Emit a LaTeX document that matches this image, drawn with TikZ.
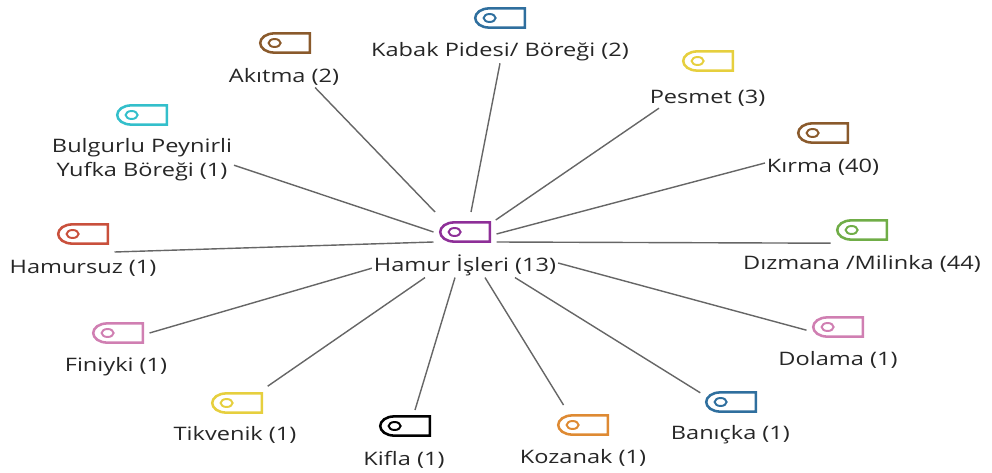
\documentclass[tikz,border=0pt]{standalone}
\usepackage{fontspec}
\setmainfont[FakeStretch=1.27]{Open Sans}
\definecolor{hubpurple}{HTML}{8E2F98}
\definecolor{tagteal}{HTML}{33BFCB}
\definecolor{tagbrown}{HTML}{8A5A2C}
\definecolor{tagblue}{HTML}{2F6F9E}
\definecolor{tagyellow}{HTML}{E6CF3E}
\definecolor{tagolive}{HTML}{70AD47}
\definecolor{tagred}{HTML}{C9503C}
\definecolor{tagpink}{HTML}{D07FB2}
\definecolor{tagorange}{HTML}{DE8A33}
\tikzset{
	tagbox/.style={minimum width=1.275cm, minimum height=0.5cm, inner sep=0pt, outer sep=0.15cm},
	tagname/.style={font=\fontsize{13.2pt}{17pt}\selectfont, text=black!85, inner sep=0pt, outer sep=0.05cm, align=center},
	link/.style={draw=black!60, line width=1pt}
}
\newcommand{\tagicon}[4]{
	\node [tagbox] (#1) at (#2, #3) {};
	\draw [#4, line width=1.8pt, shift={(#2, #3)}] (0.62, 0.24) -- (-0.27, 0.24) arc [start angle=90, end angle=270, x radius=0.35, y radius=0.24] -- (0.62, -0.24) -- cycle;
	\draw [#4, line width=1.4pt] (#2-0.26, #3) ellipse (0.15 and 0.1);
}
\begin{document}
\begin{tikzpicture}
				\useasboundingbox (0, 0) rectangle (24.8, 11.8);

				\tagicon{THub}{11.625}{6.0}{hubpurple}
				\tagicon{TKabak}{12.5}{11.35}{tagblue}
				\tagicon{TAkitma}{7.125}{10.725}{tagbrown}
				\tagicon{TPesmet}{17.7}{10.275}{tagyellow}
				\tagicon{TKirma}{20.575}{8.475}{tagbrown}
				\tagicon{TDizmana}{21.55}{6.05}{tagolive}
				\tagicon{TDolama}{20.95}{3.625}{tagpink}
				\tagicon{TBanicka}{18.275}{1.75}{tagblue}
				\tagicon{TKozanak}{14.575}{1.175}{tagorange}
				\tagicon{TKifla}{10.125}{1.15}{black}
				\tagicon{TTikvenik}{5.925}{1.725}{tagyellow}
				\tagicon{TFiniyki}{2.95}{3.475}{tagpink}
				\tagicon{THamursuz}{2.075}{5.95}{tagred}
				\tagicon{TBulgurlu}{3.55}{8.925}{tagteal}

				\node [tagname] (LHub) at (11.625, 5.175) {Hamur İşleri (13)};
				\node [tagname] (LKabak) at (12.5, 10.5) {Kabak Pidesi/ Böreği (2)};
				\node [tagname] (LAkitma) at (7.1, 9.875) {Akıtma (2)};
				\node [tagname] (LPesmet) at (17.69, 9.35) {Pesmet (3)};
				\node [tagname] (LKirma) at (20.575, 7.625) {Kırma (40)};
				\node [tagname] (LDizmana) at (21.55, 5.2) {Dızmana /Milinka (44)};
				\node [tagname] (LDolama) at (20.95, 2.8) {Dolama (1)};
				\node [tagname] (LBanicka) at (18.26, 0.925) {Banıçka (1)};
				\node [tagname] (LKozanak) at (14.575, 0.35) {Kozanak (1)};
				\node [tagname] (LKifla) at (10.1, 0.3) {Kifla (1)};
				\node [tagname] (LTikvenik) at (5.875, 0.925) {Tikvenik (1)};
				\node [tagname] (LFiniyki) at (2.9, 2.625) {Finiyki (1)};
				\node [tagname] (LHamursuz) at (2.075, 5.1) {Hamursuz (1)};
				\node [tagname] (LBulgurlu) at (3.55, 7.8) {Bulgurlu Peynirli\\Yufka Böreği (1)};

				\draw [link] ([xshift=0.15cm, yshift=0.1cm]THub.north) -- (LKabak.south);
				\draw [link] ([xshift=-0.75cm, yshift=0.1cm]THub.north) -- ([xshift=-0.65cm]LAkitma.south east);
				\draw [link] ([xshift=-0.02cm, yshift=-0.1cm]THub.north east) -- ([xshift=0.28cm]LPesmet.south west);
				\draw [link] ([yshift=-0.05cm]THub.east) -- ([yshift=0.1cm]LKirma.west);
				\draw [link] ([yshift=-0.25cm]THub.east) -- ([yshift=0.07cm]TDizmana.south west);
				\draw [link] ([yshift=-0.25cm]THub.west) -- ([yshift=-0.05cm]THamursuz.south east);
				\draw [link] (THub.west) -- ([yshift=-0.13cm]LBulgurlu.east);
				\draw [link] ([yshift=-0.08cm]LHub.west) -- (TFiniyki.east);
				\draw [link] ([xshift=-1cm]LHub.south) -- ([xshift=-0.02cm, yshift=0.02cm]TTikvenik.north east);
				\draw [link] ([xshift=-0.25cm]LHub.south) -- ([xshift=0.25cm]TKifla.north);
				\draw [link] ([xshift=0.5cm]LHub.south) -- ([xshift=0.3cm, yshift=0.1cm]TKozanak.north west);
				\draw [link] ([xshift=1.25cm]LHub.south) -- ([xshift=0.02cm, yshift=-0.17cm]TBanicka.north west);
				\draw [link] ([yshift=0.05cm]LHub.east) -- ([yshift=0.32cm]TDolama.south west);
\end{tikzpicture}
\end{document}
